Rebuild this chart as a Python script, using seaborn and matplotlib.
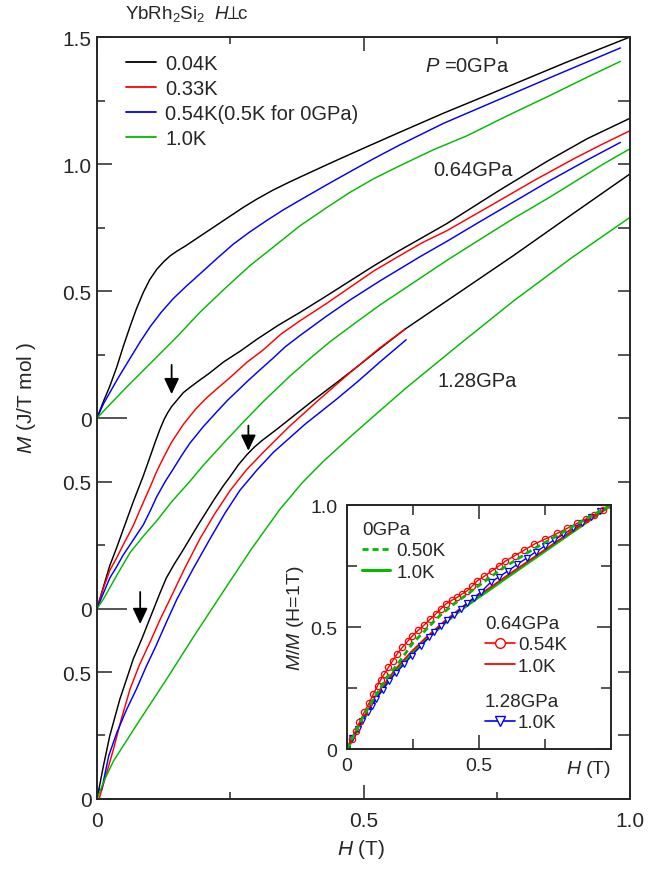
import matplotlib
matplotlib.use("Agg")
import numpy as np
import pandas as pd
import matplotlib.pyplot as plt
from matplotlib.lines import Line2D
from matplotlib.ticker import FixedLocator, FixedFormatter
import seaborn as sns

# ---------------- main panel: M(H), YbRh2Si2, H perpendicular to c ----------------
# P = 0 GPa
h_0_004 = [0, 0.012, 0.024, 0.037, 0.049, 0.062, 0.074, 0.087, 0.099, 0.112, 0.125, 0.137,
           0.15, 0.165, 0.18, 0.2, 0.225, 0.25, 0.275, 0.3, 0.33, 0.36, 0.4, 0.45, 0.5,
           0.568, 0.65, 0.769, 0.88, 1.0]
m_0_004 = [0, 0.065, 0.125, 0.2, 0.28, 0.36, 0.43, 0.495, 0.545, 0.585, 0.615, 0.638,
           0.657, 0.676, 0.697, 0.725, 0.76, 0.795, 0.83, 0.862, 0.897, 0.928, 0.967, 1.015,
           1.062, 1.125, 1.2, 1.303, 1.40, 1.50]
h_0_05 = [0, 0.012, 0.024, 0.037, 0.049, 0.065, 0.081, 0.1, 0.12, 0.143, 0.168, 0.193, 0.225,
          0.256, 0.287, 0.318, 0.35, 0.381, 0.43, 0.475, 0.52, 0.568, 0.65, 0.75, 0.85, 0.982]
m_0_05 = [0, 0.055, 0.10, 0.148, 0.19, 0.245, 0.30, 0.36, 0.415, 0.47, 0.52, 0.567, 0.628,
          0.685, 0.733, 0.777, 0.82, 0.858, 0.917, 0.97, 1.022, 1.075, 1.16, 1.25, 1.34, 1.457]
h_0_10 = [0, 0.05, 0.1, 0.15, 0.193, 0.24, 0.287, 0.335, 0.381, 0.43, 0.475, 0.52, 0.568,
          0.63, 0.694, 0.77, 0.85, 0.92, 0.982]
m_0_10 = [0, 0.11, 0.215, 0.32, 0.416, 0.51, 0.60, 0.68, 0.757, 0.827, 0.889, 0.943, 0.993,
          1.055, 1.111, 1.19, 1.27, 1.342, 1.404]

# P = 0.64 GPa
h_64_004 = [0, 0.012, 0.024, 0.037, 0.049, 0.068, 0.087, 0.1, 0.11, 0.118, 0.126, 0.133,
            0.14, 0.15, 0.162, 0.174, 0.19, 0.21, 0.237, 0.27, 0.30, 0.34, 0.381, 0.43,
            0.475, 0.52, 0.568, 0.61, 0.656, 0.75, 0.844, 0.92, 1.0]
m_64_004 = [0, 0.085, 0.169, 0.24, 0.31, 0.42, 0.523, 0.6, 0.66, 0.705, 0.745, 0.772,
            0.795, 0.82, 0.85, 0.87, 0.895, 0.925, 0.97, 1.015, 1.06, 1.115, 1.166, 1.23,
            1.29, 1.35, 1.41, 1.46, 1.515, 1.64, 1.76, 1.85, 1.93]
h_64_033 = [0, 0.012, 0.024, 0.037, 0.049, 0.068, 0.081, 0.1, 0.112, 0.125, 0.14, 0.162,
            0.185, 0.206, 0.225, 0.25, 0.281, 0.31, 0.345, 0.381, 0.43, 0.475, 0.52, 0.568,
            0.61, 0.656, 0.75, 0.82, 0.894, 0.95, 1.0]
m_64_033 = [0, 0.08, 0.15, 0.2, 0.25, 0.326, 0.39, 0.48, 0.54, 0.595, 0.655, 0.725,
            0.785, 0.83, 0.865, 0.91, 0.969, 1.015, 1.08, 1.133, 1.2, 1.265, 1.33, 1.389,
            1.44, 1.487, 1.6, 1.685, 1.77, 1.83, 1.881]
h_64_054 = [0, 0.012, 0.024, 0.037, 0.049, 0.068, 0.087, 0.1, 0.112, 0.128, 0.143, 0.158,
            0.174, 0.199, 0.225, 0.245, 0.265, 0.285, 0.306, 0.33, 0.353, 0.381, 0.43, 0.475,
            0.531, 0.606, 0.656, 0.72, 0.781, 0.85, 0.919, 0.982]
m_64_054 = [0, 0.06, 0.12, 0.165, 0.21, 0.27, 0.33, 0.385, 0.44, 0.5, 0.549, 0.6,
            0.65, 0.715, 0.775, 0.82, 0.86, 0.9, 0.94, 0.985, 1.03, 1.075, 1.15, 1.215,
            1.29, 1.385, 1.445, 1.525, 1.6, 1.685, 1.765, 1.835]
h_64_10 = [0, 0.012, 0.037, 0.062, 0.087, 0.112, 0.14, 0.174, 0.2, 0.237, 0.275, 0.312,
           0.362, 0.4, 0.437, 0.485, 0.531, 0.606, 0.656, 0.72, 0.781, 0.85, 0.9, 0.95, 1.0]
m_64_10 = [0, 0.037, 0.13, 0.22, 0.285, 0.345, 0.42, 0.50, 0.565, 0.65, 0.735, 0.815,
           0.915, 0.985, 1.05, 1.125, 1.195, 1.30, 1.37, 1.455, 1.535, 1.62, 1.685, 1.75,
           1.81]

# P = 1.28 GPa
h_128_004 = [0, 0.012, 0.024, 0.043, 0.056, 0.068, 0.084, 0.1, 0.118, 0.13, 0.145, 0.16,
             0.174, 0.19, 0.205, 0.22, 0.237, 0.25, 0.265, 0.281, 0.295, 0.31, 0.337, 0.37,
             0.406, 0.45, 0.49, 0.535, 0.578, 0.68, 0.781, 0.89, 1.0]
m_128_004 = [0, 0.13, 0.249, 0.394, 0.475, 0.551, 0.63, 0.715, 0.81, 0.87, 0.925, 0.975,
             1.024, 1.08, 1.13, 1.18, 1.233, 1.27, 1.315, 1.355, 1.385, 1.412, 1.455, 1.51,
             1.57, 1.64, 1.705, 1.78, 1.85, 1.995, 2.139, 2.30, 2.461]
h_128_033 = [0.004, 0.015, 0.031, 0.045, 0.062, 0.08, 0.1, 0.118, 0.137, 0.165, 0.193, 0.22,
             0.25, 0.28, 0.312, 0.36, 0.418, 0.47, 0.53, 0.578]
m_128_033 = [0, 0.08, 0.197, 0.31, 0.433, 0.53, 0.62, 0.705, 0.787, 0.91, 1.024, 1.12,
             1.215, 1.295, 1.365, 1.465, 1.575, 1.67, 1.775, 1.85]
h_128_054 = [0, 0.009, 0.022, 0.037, 0.055, 0.074, 0.092, 0.11, 0.13, 0.15, 0.18, 0.212,
             0.24, 0.268, 0.3, 0.331, 0.39, 0.45, 0.49, 0.53, 0.58]
m_128_054 = [0.033, 0.039, 0.17, 0.26, 0.35, 0.433, 0.52, 0.6, 0.695, 0.787, 0.905, 1.024,
             1.125, 1.215, 1.295, 1.365, 1.475, 1.575, 1.645, 1.719, 1.808]
h_128_10 = [0, 0.015, 0.031, 0.08, 0.13, 0.18, 0.24, 0.29, 0.343, 0.385, 0.425, 0.48, 0.531,
            0.578, 0.68, 0.781, 0.89, 1.0]
m_128_10 = [0, 0.08, 0.15, 0.31, 0.47, 0.635, 0.827, 0.985, 1.14, 1.245, 1.33, 1.435, 1.529,
            1.615, 1.79, 1.96, 2.13, 2.29]

pressures = ["0GPa", "0.64GPa", "1.28GPa"]
offsets = [1.5, 0.75, 0.0]
temps = ["0.04K", "0.33K", "0.54K(0.5K for 0GPa)", "1.0K"]
colors = ["#000000", "#ff0000", "#0000ff", "#00bb00"]

curves = [
    ("0GPa", "0.04K", h_0_004, m_0_004),
    ("0GPa", "0.54K(0.5K for 0GPa)", h_0_05, m_0_05),
    ("0GPa", "1.0K", h_0_10, m_0_10),
    ("0.64GPa", "0.04K", h_64_004, m_64_004),
    ("0.64GPa", "0.33K", h_64_033, m_64_033),
    ("0.64GPa", "0.54K(0.5K for 0GPa)", h_64_054, m_64_054),
    ("0.64GPa", "1.0K", h_64_10, m_64_10),
    ("1.28GPa", "0.04K", h_128_004, m_128_004),
    ("1.28GPa", "0.33K", h_128_033, m_128_033),
    ("1.28GPa", "0.54K(0.5K for 0GPa)", h_128_054, m_128_054),
    ("1.28GPa", "1.0K", h_128_10, m_128_10),
]

# kinks marked by arrows (field, arrow tip and tail on the stacked axis)
arrow_h = [0.081, 0.14, 0.284]
arrow_tip = [0.689, 1.594, 1.371]
arrow_tail = [0.815, 1.709, 1.47]

# ---------------- inset: M normalised by M(1 T) ----------------
h_in_0_05 = [0, 0.03, 0.06, 0.1, 0.15, 0.2, 0.25, 0.3, 0.35, 0.4, 0.45, 0.5, 0.55, 0.6,
             0.7, 0.8, 0.9, 1.0]
r_in_0_05 = [0, 0.065, 0.13, 0.205, 0.29, 0.36, 0.435, 0.49, 0.545, 0.59, 0.63, 0.67,
             0.71, 0.748, 0.815, 0.877, 0.94, 1.0]
h_in_0_10 = [0, 0.05, 0.116, 0.18, 0.242, 0.3, 0.368, 0.43, 0.494, 0.557, 0.6, 0.7, 0.8,
             0.9, 1.0]
r_in_0_10 = [0, 0.1, 0.219, 0.315, 0.389, 0.45, 0.515, 0.57, 0.62, 0.667, 0.70, 0.775,
             0.85, 0.925, 1.0]
h_in_64_054 = [0, 0.018, 0.034, 0.047, 0.065, 0.084, 0.1, 0.116, 0.128, 0.141, 0.157, 0.173,
               0.19, 0.21, 0.23, 0.248, 0.27, 0.292, 0.314, 0.336, 0.355, 0.374, 0.396,
               0.418, 0.437, 0.456, 0.475, 0.494, 0.52, 0.55, 0.575, 0.6, 0.635, 0.671,
               0.71, 0.75, 0.797, 0.835, 0.873, 0.905, 0.937, 0.97, 1.0]
r_in_64_054 = [0, 0.04, 0.075, 0.109, 0.15, 0.189, 0.225, 0.26, 0.284, 0.307, 0.335, 0.362,
               0.39, 0.417, 0.442, 0.464, 0.487, 0.508, 0.531, 0.553, 0.574, 0.594, 0.609,
               0.622, 0.636, 0.649, 0.669, 0.69, 0.708, 0.731, 0.75, 0.77, 0.792, 0.815,
               0.84, 0.86, 0.884, 0.905, 0.925, 0.943, 0.959, 0.98, 1.0]
h_in_64_10 = [0, 0.05, 0.116, 0.18, 0.242, 0.3, 0.368, 0.43, 0.494, 0.557, 0.6, 0.7, 0.8,
              0.9, 1.0]
r_in_64_10 = [0, 0.105, 0.226, 0.323, 0.397, 0.458, 0.523, 0.577, 0.627, 0.673, 0.706,
              0.78, 0.854, 0.928, 1.0]
h_in_128_10 = [0, 0.02, 0.04, 0.058, 0.078, 0.095, 0.11, 0.135, 0.16, 0.185, 0.217, 0.245,
               0.28, 0.31, 0.33, 0.355, 0.38, 0.405, 0.431, 0.455, 0.48, 0.506, 0.544,
               0.575, 0.61, 0.645, 0.68, 0.715, 0.75, 0.785, 0.82, 0.855, 0.89, 0.925,
               0.96, 1.0]
r_in_128_10 = [0, 0.045, 0.082, 0.115, 0.15, 0.178, 0.205, 0.243, 0.28, 0.312, 0.348, 0.383,
               0.423, 0.457, 0.479, 0.503, 0.527, 0.55, 0.574, 0.597, 0.62, 0.642, 0.683,
               0.705, 0.73, 0.757, 0.782, 0.808, 0.832, 0.857, 0.88, 0.905, 0.928, 0.952,
               0.975, 1.0]

# ---------------- style ----------------
sns.set_style("ticks")
plt.rcParams["font.family"] = ["Liberation Sans", "DejaVu Sans"]
plt.rcParams["mathtext.fontset"] = "custom"
plt.rcParams["mathtext.rm"] = "Liberation Sans"
plt.rcParams["mathtext.it"] = "Liberation Sans:italic"
plt.rcParams["mathtext.bf"] = "Liberation Sans:bold"
plt.rcParams["mathtext.sf"] = "Liberation Sans"
plt.rcParams["mathtext.fallback"] = "stixsans"
plt.rcParams["axes.linewidth"] = 1.4

fig = plt.figure(figsize=(6.72, 8.70), dpi=100)
ax = fig.add_axes([0.14435, 0.08046, 0.79315, 0.87586])

rows = []
for (pres, temp, hs, ms) in curves:
    off = offsets[pressures.index(pres)]
    for h, m in zip(hs, ms):
        rows.append({"pressure": pres, "temp": temp, "H": h, "M": m + off})
df = pd.DataFrame(rows)
df["curve"] = df["pressure"] + " " + df["temp"]
palette = dict(zip(temps, colors))

sns.lineplot(data=df, x="H", y="M", hue="temp", hue_order=temps, units="curve",
             estimator=None, sort=False, palette=palette, legend=False,
             lw=1.05, ax=ax)

ax.set_xlim(0, 1.0)
ax.set_ylim(0, 3.0)

# x ticks
ax.xaxis.set_major_locator(FixedLocator([0, 0.5, 1.0]))
ax.xaxis.set_major_formatter(FixedFormatter(["0", "0.5", "1.0"]))
ax.xaxis.set_minor_locator(FixedLocator([0.25, 0.75]))
ax.tick_params(axis="x", which="major", direction="in", top=True, bottom=True,
               length=10, width=1.1, labelsize=15, pad=8.5)
ax.tick_params(axis="x", which="minor", direction="in", top=True, bottom=True,
               length=5, width=1.1)

# y ticks: three stacked panels sharing one axis
ytick_pos = [0, 0.25, 0.5, 0.75, 1.0, 1.25, 1.5, 1.75, 2.0, 2.25, 2.5, 2.75, 3.0]
ytick_text = ["0", "", "0.5", "0", "", "0.5", "0", "", "0.5", "", "1.0", "", "1.5"]
zero_lines = [0.75, 1.5]
ax.yaxis.set_major_locator(FixedLocator(ytick_pos))
ax.yaxis.set_major_formatter(FixedFormatter(ytick_text))
ax.yaxis.set_minor_locator(FixedLocator([]))
ax.tick_params(axis="y", which="major", direction="in", left=True, right=True,
               length=8.5, width=1.1, labelsize=15, pad=4)
for tk, pos, txt in zip(ax.yaxis.get_major_ticks(), ytick_pos, ytick_text):
    if pos in zero_lines:
        tk.tick1line.set_markersize(21.6)
    elif txt:
        tk.tick1line.set_markersize(10.8)
    else:
        tk.tick1line.set_markersize(5.8)
    tk.tick2line.set_markersize(8.6)

ax.set_xlabel(r"$H$ (T)", fontsize=15)
ax.xaxis.set_label_coords(0.495, -0.05)
ax.set_ylabel(r"$M$ (J/T mol )", fontsize=15)
ax.yaxis.set_label_coords(-0.111, 0.528)

handles = [Line2D([], [], color=c, lw=1.3) for c in colors]
ax.legend(handles, temps, loc="upper left", bbox_to_anchor=(0.0544, 0.9777),
          borderaxespad=0, borderpad=0, frameon=False, fontsize=14.5,
          handlelength=1.5, handletextpad=0.45, labelspacing=0.3)

ax.text(0.615, 2.887, r"$P$ =0GPa", fontsize=14.5, ha="left", va="center")
ax.text(0.630, 2.48, "0.64GPa", fontsize=14.5, ha="left", va="center")
ax.text(0.638, 1.647, "1.28GPa", fontsize=14.5, ha="left", va="center")

for xh, yt, ys in zip(arrow_h, arrow_tip, arrow_tail):
    ax.annotate("", xy=(xh, yt), xytext=(xh, ys),
                arrowprops=dict(arrowstyle="-|>,head_length=0.95,head_width=0.45",
                                mutation_scale=10, color="black", lw=1.3,
                                shrinkA=0, shrinkB=0))

fig.text(125 / 672, 1 - 14 / 870, r"YbRh$_2$Si$_2$  $H\!\!\perp\!\!$c", fontsize=13.5,
         ha="left", va="center")

# ---------------- inset ----------------
ins = fig.add_axes([0.51637, 0.13793, 0.39286, 0.28046])
for s in ins.spines.values():
    s.set_linewidth(1.4)
green = "#00bb00"
sns.lineplot(x=h_in_0_10, y=r_in_0_10, color=green, lw=2.4, estimator=None,
             sort=False, ax=ins)
sns.lineplot(x=h_in_64_10, y=r_in_64_10, color="#ff0000", lw=1.2, estimator=None,
             sort=False, ax=ins)
sns.lineplot(x=h_in_128_10, y=r_in_128_10, color="#0000ff", lw=1.0, estimator=None,
             sort=False, ax=ins, marker="v", markersize=4.5, markerfacecolor="white",
             markeredgecolor="#0000ff", markeredgewidth=0.9)
sns.lineplot(x=h_in_64_054, y=r_in_64_054, color="#ff0000", lw=1.0, estimator=None,
             sort=False, ax=ins, marker="o", markersize=4.5, markerfacecolor="none",
             markeredgecolor="#ff0000", markeredgewidth=0.9)
sns.lineplot(x=h_in_0_05, y=r_in_0_05, color=green, lw=2.0, estimator=None,
             sort=False, ax=ins, dashes=False, linestyle=(0, (2.2, 1.4)))

ins.set_xlim(0, 1.0)
ins.set_ylim(0, 1.0)
ins.xaxis.set_major_locator(FixedLocator([0, 0.5, 1.0]))
ins.xaxis.set_major_formatter(FixedFormatter(["0", "0.5", ""]))
ins.xaxis.set_minor_locator(FixedLocator([0.25, 0.75]))
ins.yaxis.set_major_locator(FixedLocator([0, 0.5, 1.0]))
ins.yaxis.set_major_formatter(FixedFormatter(["0", "0.5", "1.0"]))
ins.yaxis.set_minor_locator(FixedLocator([0.25, 0.75]))
ins.tick_params(which="major", direction="in", top=True, bottom=True, left=True,
                right=True, length=10, width=1.1, labelsize=14)
ins.tick_params(which="minor", direction="in", top=True, bottom=True, left=True,
                right=True, length=7, width=1.1)
ins.tick_params(axis="y", pad=7)
ins.tick_params(axis="x", pad=6)
ins.set_xlabel(r"$H$ (T)", fontsize=14, ha="right")
ins.xaxis.set_label_coords(1.0, -0.035)
ins.set_ylabel(r"$M$/$M$ (H=1T)", fontsize=14)
ins.yaxis.set_label_coords(-0.155, 0.541)

leg_kw = dict(loc="upper left", borderaxespad=0, borderpad=0, frameon=False,
              fontsize=13.5, title_fontsize=13.5, labelspacing=0.22,
              alignment="left")
h_dash = Line2D([], [], color=green, lw=2.0, linestyle=(0, (2.2, 1.4)))
h_sol = Line2D([], [], color=green, lw=2.2)
leg1 = ins.legend([h_dash, h_sol], ["0.50K", "1.0K"], title="0GPa",
                  bbox_to_anchor=(0.057, 0.934), handlelength=1.5,
                  handletextpad=0.32, **leg_kw)
ins.add_artist(leg1)
h_circ = Line2D([], [], color="#ff0000", lw=1.2, marker="o", markersize=7,
                markerfacecolor="white", markeredgecolor="#ff0000", markeredgewidth=1.0)
h_red = Line2D([], [], color="#ff0000", lw=1.3)
leg2 = ins.legend([h_circ, h_red], ["0.54K", "1.0K"], title="0.64GPa",
                  bbox_to_anchor=(0.523, 0.549), handlelength=1.6,
                  handletextpad=0.15, **leg_kw)
ins.add_artist(leg2)
h_tri = Line2D([], [], color="#0000ff", lw=1.2, marker="v", markersize=7,
               markerfacecolor="white", markeredgecolor="#0000ff", markeredgewidth=1.0)
leg3 = ins.legend([h_tri], ["1.0K"], title="1.28GPa",
                  bbox_to_anchor=(0.523, 0.23), handlelength=1.6,
                  handletextpad=0.15, **leg_kw)

fig.savefig("out.png", dpi=100)
